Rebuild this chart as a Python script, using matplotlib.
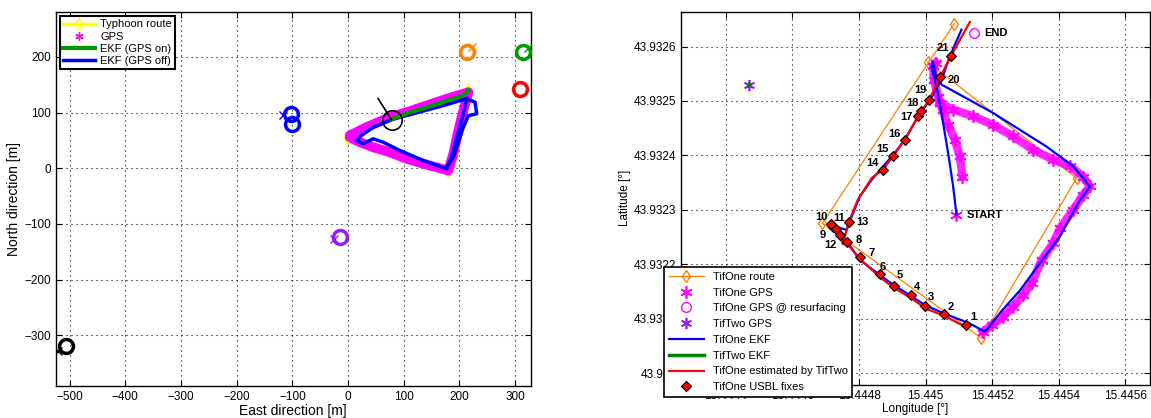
import numpy as np
import matplotlib.pyplot as plt
from matplotlib.ticker import FuncFormatter

plt.rcParams['font.family'] = ['Liberation Sans', 'DejaVu Sans']
plt.rcParams['font.size'] = 8

# ---------------- left panel: local frame [m] ----------------
route_e = [0, 180, 215, 0]
route_n = [55, -5, 140, 55]

gps_e = [3, 33, 75, 105, 141, 177, 216, 207, 198, 189, 180, 147, 105, 75, 45, 21, 3]
gps_n = [58.7, 73.6, 91.6, 100.5, 112.6, 124.6, 136.4, 103.6, 67.7, 25.9, -4.1,
         4.8, 16.9, 28.7, 37.7, 46.7, 55.7]

ekf_on_e = [78, 110, 150, 180, 205, 216]
ekf_on_n = [88, 100, 112, 122, 130, 140]

ekf_off_e = [213, 180, 140, 110, 81, 45, 24, 15, 27, 45, 63, 93, 135, 177, 186, 195,
             207, 213, 228, 231, 216, 207, 189, 177]
ekf_off_n = [125, 115, 104, 96, 88.7, 73.6, 58.7, 49.7, 43.8, 52.8, 46.7, 31.8, 13.8,
             -1.1, 19.7, 55.7, 97.7, 124.6, 118.5, 97.7, 94.3, 73.6, 19.7, 1.8]

# surfacing spots of the other vehicles
spot_e = [-102, -100, 213, 315, 309, -14, -506]
spot_n = [98, 80, 208, 208, 143, -123, -320]
spot_col = ['blue', 'blue', '#ff8000', '#009900', 'red', '#9919ff', 'black']
cross_e = [-117, 223, 323, -25, -521]
cross_n = [95, 218, 215, -128, -329]
cross_col = ['blue', '#ff8000', '#009900', '#9919ff', 'black']

# typhoon pose
pose_e = [54, 78]
pose_n = [125, 87]

# ---------------- right panel: geographic ----------------
route_lon = [15.445006, 15.445454, 15.445168, 15.444690, 15.445086]
route_lat = [43.932572, 43.932358, 43.932064, 43.932275, 43.932642]

gps_a_lon = [15.445111, 15.445103, 15.445088, 15.445068, 15.445051, 15.445038,
             15.445025, 15.445023, 15.445031]
gps_a_lat = [43.932361, 43.932398, 43.932429, 43.932456, 43.932484, 43.932508,
             43.932539, 43.932564, 43.932570]
gps_b_lon = [15.445043, 15.445083, 15.445143, 15.445203, 15.445263, 15.445324,
             15.445384, 15.445434, 15.445474, 15.445494, 15.445473, 15.445444,
             15.445404, 15.445384, 15.445349, 15.445319, 15.445294, 15.445263,
             15.445233, 15.445199, 15.445173]
gps_b_lat = [43.932496, 43.932484, 43.932472, 43.932456, 43.932435, 43.932410,
             43.932392, 43.932380, 43.932361, 43.932343, 43.932327, 43.932300,
             43.932266, 43.932239, 43.932208, 43.932165, 43.932143, 43.932122,
             43.932103, 43.932088, 43.932076]
start_lon, start_lat = 15.445093, 43.932291
end_lon, end_lat = 15.445146, 43.932625
tiftwo_lon, tiftwo_lat = 15.444470, 43.932529

ekf1_lon = [15.445093, 15.445083, 15.445068, 15.445053, 15.445033, 15.445018, 15.445022,
            15.445031, 15.445048, 15.445203, 15.445364, 15.445444, 15.445494, 15.445484,
            15.445464, 15.445404, 15.445344, 15.445284, 15.445223, 15.445188, 15.445178,
            15.445133, 15.445053, 15.444998, 15.444953, 15.444903, 15.444863, 15.444802,
            15.444767, 15.444717, 15.444742, 15.444762, 15.444802, 15.444838, 15.444863,
            15.444903, 15.444938, 15.444978, 15.445013, 15.445048, 15.445073, 15.445108]
ekf1_lat = [43.932291, 43.932343, 43.932404, 43.932459, 43.932527, 43.932561, 43.932572,
            43.932548, 43.932530, 43.932478, 43.932416, 43.932380, 43.932343, 43.932334,
            43.932318, 43.932251, 43.932202, 43.932152, 43.932110, 43.932082, 43.932076,
            43.932091, 43.932110, 43.932125, 43.932143, 43.932162, 43.932180, 43.932208,
            43.932239, 43.932272, 43.932267, 43.932263, 43.932324, 43.932355, 43.932373,
            43.932401, 43.932429, 43.932472, 43.932502, 43.932539, 43.932582, 43.932631]

ekf2_lon = [15.444469, 15.444471]
ekf2_lat = [43.932527, 43.932531]

est_lon = [15.445123, 15.445056, 15.444999, 15.444956, 15.444906, 15.444863, 15.444802,
           15.444765, 15.444736, 15.444715, 15.444732, 15.444742, 15.444751, 15.444770,
           15.444796, 15.444839, 15.444871, 15.444903, 15.444938, 15.444978, 15.444987,
           15.445011, 15.445044, 15.445076, 15.445133]
est_lat = [43.932084, 43.932105, 43.932119, 43.932138, 43.932156, 43.932176, 43.932210,
           43.932237, 43.932252, 43.932274, 43.932264, 43.932254, 43.932237, 43.932278,
           43.932318, 43.932359, 43.932373, 43.932399, 43.932429, 43.932472, 43.932481,
           43.932502, 43.932544, 43.932582, 43.932645]

usbl_lon = [15.445123, 15.445056, 15.444999, 15.444956, 15.444906, 15.444863, 15.444802,
            15.444765, 15.444721, 15.444715, 15.444732, 15.444742, 15.444770, 15.444871,
            15.444903, 15.444938, 15.444978, 15.444987, 15.445011, 15.445044, 15.445076]
usbl_lat = [43.932088, 43.932108, 43.932124, 43.932143, 43.932160, 43.932182, 43.932214,
            43.932241, 43.932269, 43.932274, 43.932264, 43.932254, 43.932278, 43.932373,
            43.932399, 43.932429, 43.932472, 43.932481, 43.932502, 43.932544, 43.932582]
usbl_id = [str(i) for i in range(1, 22)]
# label offsets in pixels
lab_dx = [7, 7, 6, 6, 5, 3, 12, 11, -10, -9, 3, -9, 13, -10, -11, -11, -12, -9, -9, 14, -8]
lab_dy = [8, 7, 9, 8, 11, 7, 4, 2, -8, 7, 11, -10, 0, 7, 7, 6, -1, 8, 10, -3, 8]

orange = '#ff8000'
magenta = '#ff00ff'
purple = '#9919ff'
aster = (6, 2, 0)  # matlab-like asterisk marker

fig = plt.figure(figsize=(11.51, 4.18), dpi=100)
ax1 = fig.add_axes([0.0484, 0.0773, 0.4127, 0.8947])
ax2 = fig.add_axes([0.5917, 0.079, 0.4075, 0.893])

for ax in (ax1, ax2):
    ax.grid(True, linestyle=(0, (1, 3.5)), color='black', linewidth=0.8)
    ax.tick_params(direction='in', top=True, right=True, length=4, labelsize=8.5)
    for s in ax.spines.values():
        s.set_linewidth(1.0)

# left
ax1.plot(route_e, route_n, '-d', color='yellow', lw=2.5, ms=6, mfc='none',
         mec='yellow', label='Typhoon route', zorder=2)
ax1.plot(gps_e, gps_n, '-', color=magenta, lw=7, solid_capstyle='round', zorder=2)
ax1.plot(gps_e, gps_n, marker=aster, ls='none', color=magenta, ms=6, mew=1,
         label='GPS', zorder=2)
ax1.plot(ekf_on_e, ekf_on_n, color='#009900', lw=3, label='EKF (GPS on)', zorder=4)
ax1.plot(ekf_off_e, ekf_off_n, color='blue', lw=2.5, label='EKF (GPS off)', zorder=3)
for e, n, c in zip(spot_e, spot_n, spot_col):
    ax1.plot(e, n, 'o', ms=10, mfc='none', mec=c, mew=2.5, zorder=5)
for e, n, c in zip(cross_e, cross_n, cross_col):
    ax1.plot(e, n, 'x', ms=6, color=c, mew=1, zorder=5)
ax1.plot(pose_e, pose_n, color='black', lw=1.2, zorder=6)
ax1.plot(pose_e[1], pose_n[1], 'o', ms=14, mfc='none', mec='black', mew=1.2, zorder=6)

ax1.set_xlim(-525, 328)
ax1.set_ylim(-390.5, 281)
ax1.set_xticks(np.arange(-500, 301, 100))
ax1.set_yticks(np.arange(-300, 201, 100))
ax1.set_xlabel('East direction [m]', fontsize=10, labelpad=1)
ax1.set_ylabel('North direction [m]', fontsize=10, labelpad=2)
leg1 = ax1.legend(loc='upper left', fontsize=8, fancybox=False, edgecolor='black',
                  framealpha=1, borderpad=0.3, labelspacing=0.2, handlelength=2.8,
                  handletextpad=0.5, borderaxespad=0.4)
leg1.get_frame().set_linewidth(1.5)

# right
ax2.plot(route_lon, route_lat, '-d', color=orange, lw=0.9, ms=6, mfc='none',
         mec=orange, label='TifOne route', zorder=2)
ax2.plot(gps_a_lon, gps_a_lat, '-', color=magenta, lw=6, zorder=2, alpha=0.85)
ax2.plot(gps_b_lon, gps_b_lat, '-', color=magenta, lw=6, zorder=2, alpha=0.85)
ax2.plot(gps_a_lon + gps_b_lon + [start_lon], gps_a_lat + gps_b_lat + [start_lat],
         marker=aster, ls='none', color=magenta, ms=9, mew=1.2, label='TifOne GPS', zorder=2)
ax2.plot(end_lon, end_lat, 'o', ls='none', ms=7, mfc='none', mec=magenta,
         label='TifOne GPS @ resurfacing', zorder=3)
ax2.plot(tiftwo_lon, tiftwo_lat, marker=aster, ls='none', color=purple, ms=8, mew=1.2,
         label='TifTwo GPS', zorder=3)
ax2.plot(ekf1_lon, ekf1_lat, color='blue', lw=1.6, label='TifOne EKF', zorder=4)
ax2.plot(ekf2_lon, ekf2_lat, color='#008000', lw=2.5, label='TifTwo EKF', zorder=4)
ax2.plot(est_lon, est_lat, color='red', lw=1.6, label='TifOne estimated by TifTwo', zorder=5)
ax2.plot(usbl_lon, usbl_lat, 'D', ls='none', ms=5.5, mfc='red', mec='black', mew=0.8,
         label='TifOne USBL fixes', zorder=6)
for lo, la, t, dx, dy in zip(usbl_lon, usbl_lat, usbl_id, lab_dx, lab_dy):
    ax2.annotate(t, (lo, la), xytext=(dx, dy), textcoords='offset pixels',
                 ha='center', va='center', fontsize=8, fontweight='bold', zorder=7)
ax2.annotate('END', (end_lon, end_lat), xytext=(10, 0), textcoords='offset pixels',
             ha='left', va='center', fontsize=8, fontweight='bold')
ax2.annotate('START', (start_lon, start_lat), xytext=(10, 0), textcoords='offset pixels',
             ha='left', va='center', fontsize=8, fontweight='bold')

ax2.set_xlim(15.444265, 15.445675)
ax2.set_ylim(43.931978, 43.932664)
ax2.set_xticks([15.4444, 15.4446, 15.4448, 15.445, 15.4452, 15.4454, 15.4456])
ax2.set_yticks([43.932, 43.9321, 43.9322, 43.9323, 43.9324, 43.9325, 43.9326])
fmt = FuncFormatter(lambda v, p: ('%.4f' % v).rstrip('0').rstrip('.'))
ax2.xaxis.set_major_formatter(fmt)
ax2.yaxis.set_major_formatter(fmt)
ax2.set_xlabel('Longitude [°]', fontsize=8.5, labelpad=1)
ax2.set_ylabel('Latitude [°]', fontsize=8.5, labelpad=2)
leg2 = ax2.legend(loc='lower left', bbox_to_anchor=(0.577, 0.051),
                  bbox_transform=fig.transFigure, fontsize=8, fancybox=False,
                  edgecolor='black', framealpha=1, borderpad=0.4, labelspacing=0.52,
                  handlelength=3.2, borderaxespad=0)
leg2.get_frame().set_linewidth(1.2)
leg2.set_zorder(10)

fig.savefig('out.png', dpi=100)
